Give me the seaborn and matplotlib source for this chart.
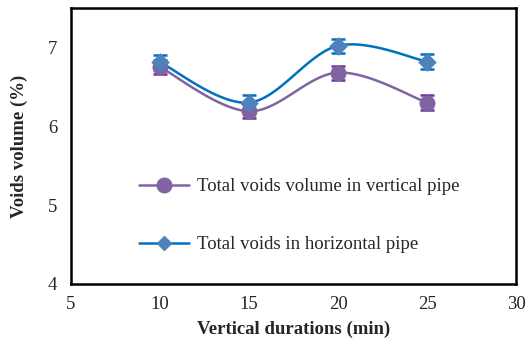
import numpy as np
import pandas as pd
import matplotlib
matplotlib.use("Agg")
import matplotlib.pyplot as plt
import seaborn as sns

# Data
durations = [10, 15, 20, 25]
vertical_voids = [6.75, 6.19, 6.68, 6.30]
horizontal_voids = [6.81, 6.30, 7.02, 6.82]
vertical_err = [0.09, 0.09, 0.09, 0.09]
horizontal_err = [0.09, 0.09, 0.09, 0.09]
x_ticks = [5, 10, 15, 20, 25, 30]
y_ticks = [4, 5, 6, 7]
label_vertical = "Total voids volume in vertical pipe"
label_horizontal = "Total voids in horizontal pipe"


def smooth_curve(xs, ys, n=40):
    """Catmull-Rom style smoothed line through the points (spreadsheet 'smoothed line')."""
    xs = np.asarray(xs, float)
    ys = np.asarray(ys, float)
    px = np.concatenate([[xs[0]], xs, [xs[-1]]])
    py = np.concatenate([[ys[0]], ys, [ys[-1]]])
    out_x, out_y = [], []
    for i in range(1, len(px) - 2):
        p0 = np.array([px[i - 1], py[i - 1]])
        p1 = np.array([px[i], py[i]])
        p2 = np.array([px[i + 1], py[i + 1]])
        p3 = np.array([px[i + 2], py[i + 2]])
        c1 = p1 + (p2 - p0) / 6.0
        c2 = p2 - (p3 - p1) / 6.0
        t = np.linspace(0, 1, n)[:, None]
        pts = ((1 - t) ** 3) * p1 + 3 * ((1 - t) ** 2) * t * c1 + 3 * (1 - t) * t ** 2 * c2 + t ** 3 * p2
        out_x.extend(pts[:, 0])
        out_y.extend(pts[:, 1])
    return np.array(out_x), np.array(out_y)


sns.set_style("white")
plt.rcParams["font.family"] = ["Liberation Serif", "DejaVu Serif"]

FS = 13.5

fig = plt.figure(figsize=(5.26, 3.45), dpi=100)
ax = fig.add_axes([0.135, 0.177, 0.846, 0.800])

purple_line = "#8064A2"
purple_err = "#7030A0"
blue_line = "#0070C0"
blue_marker = "#4F81BD"

# Smoothed lines
vx, vy = smooth_curve(durations, vertical_voids)
hx, hy = smooth_curve(durations, horizontal_voids)
sns.lineplot(x=vx, y=vy, ax=ax, color=purple_line, lw=1.8, sort=False)
sns.lineplot(x=hx, y=hy, ax=ax, color=blue_line, lw=1.8, sort=False)

# Error bars
ax.errorbar(durations, vertical_voids, yerr=vertical_err, fmt="none",
            ecolor=purple_err, elinewidth=1.8, capsize=5, capthick=1.8, zorder=3)
ax.errorbar(durations, horizontal_voids, yerr=horizontal_err, fmt="none",
            ecolor=blue_line, elinewidth=1.8, capsize=5, capthick=1.8, zorder=3)

# Markers
sns.scatterplot(x=durations, y=vertical_voids, ax=ax, marker="o", s=120,
                color=purple_line, edgecolor=purple_line, linewidth=0.5, zorder=4)
sns.scatterplot(x=durations, y=horizontal_voids, ax=ax, marker="D", s=80,
                color=blue_marker, edgecolor=blue_marker, linewidth=0.5, zorder=5)

# Legend entries drawn as proxies
h_v = plt.Line2D([], [], color=purple_line, lw=1.8, marker="o", ms=10.5,
                 markerfacecolor=purple_line, markeredgecolor=purple_line)
h_h = plt.Line2D([], [], color=blue_line, lw=1.8, marker="D", ms=7.5,
                 markerfacecolor=blue_marker, markeredgecolor=blue_marker)
ax.legend([h_v, h_h], [label_vertical, label_horizontal], frameon=False,
          loc="upper left", bbox_to_anchor=(0.135, 0.41), fontsize=FS,
          handlelength=2.7, handletextpad=0.4, labelspacing=2.17, borderaxespad=0)

ax.set_xlim(5, 30)
ax.set_ylim(4, 7.5)
ax.set_xticks(x_ticks)
ax.set_yticks(y_ticks)
ax.tick_params(axis="x", direction="in", length=5, width=1.2, labelsize=FS, pad=9)
ax.tick_params(axis="y", direction="out", length=5, width=1.2, labelsize=FS, pad=5)
for s in ax.spines.values():
    s.set_visible(True)
    s.set_color("black")
    s.set_linewidth(1.8)

ax.set_xlabel("Vertical durations (min)", fontsize=FS, fontweight="bold", labelpad=5)
ax.set_ylabel("Voids volume (%)", fontsize=FS, fontweight="bold", labelpad=14)

fig.savefig("out.png", dpi=100)
